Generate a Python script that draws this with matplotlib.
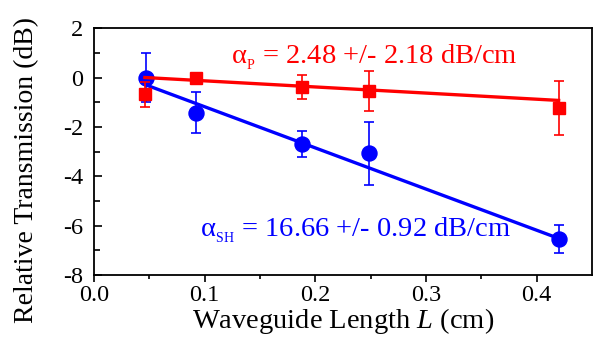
import numpy as np
import matplotlib
matplotlib.use("Agg")
import matplotlib.pyplot as plt

plt.rcParams["font.family"] = ["Liberation Serif", "DejaVu Serif"]
plt.rcParams["mathtext.fontset"] = "custom"
plt.rcParams["mathtext.rm"] = "Liberation Serif"
plt.rcParams["mathtext.it"] = "Liberation Serif:italic"

# SH (blue circles)
sh_x = [0.047, 0.0925, 0.188, 0.249, 0.420]
sh_y = [0.00, -1.42, -2.69, -3.07, -6.55]
sh_err = [1.00, 0.82, 0.52, 1.28, 0.57]
sh_slope = -16.66
sh_y0 = -0.30  # fit value at first length

# P (red squares)
p_x = [0.046, 0.0925, 0.188, 0.249, 0.420]
p_y = [-0.68, -0.02, -0.38, -0.55, -1.23]
p_err = [0.50, 0.10, 0.50, 0.80, 1.10]
p_slope = -2.48
p_y0 = 0.00

blue = "#0000ff"
red = "#ff0000"

fig = plt.figure(figsize=(5.93, 3.43), dpi=100)
ax = fig.add_axes([0.1585, 0.198, 0.8395, 0.72])

# fit lines
xs = np.array([sh_x[0], sh_x[-1]])
ax.plot(xs, sh_y0 + sh_slope * (xs - sh_x[0]), color=blue, lw=2.4, zorder=2)
ax.errorbar(sh_x, sh_y, yerr=sh_err, fmt="o", color=blue, ms=10.8,
            elinewidth=1.2, capsize=3.3, capthick=1.2, zorder=3)

xp = np.array([p_x[0], p_x[-1]])
ax.errorbar(p_x, p_y, yerr=p_err, fmt="s", color=red, ms=9.3,
            elinewidth=1.2, capsize=3.3, capthick=1.2, zorder=4)
ax.plot(xp, p_y0 + p_slope * (xp - p_x[0]), color=red, lw=2.4, zorder=5)

ax.text(0.253, 0.82,
        r"$\mathrm{\alpha}_{{}_{\mathrm{P}}}$ = 2.48 +/- 2.18 dB/cm",
        color=red, fontsize=20.5, ha="center", va="center")
ax.text(0.2365, -6.2,
        r"$\mathrm{\alpha}_{{}_{\mathrm{SH}}}$ = 16.66 +/- 0.92 dB/cm",
        color=blue, fontsize=20.5, ha="center", va="center")

ax.set_xlim(0.0, 0.45)
ax.set_ylim(-8, 2)
ax.set_xticks([0.0, 0.1, 0.2, 0.3, 0.4])
ax.set_xticks(np.arange(0.05, 0.45, 0.1), minor=True)
ax.set_yticks([-8, -6, -4, -2, 0, 2])
ax.set_yticks([-7, -5, -3, -1, 1], minor=True)
ax.set_xticklabels(["0.0", "0.1", "0.2", "0.3", "0.4"])
ax.set_yticklabels(["-8", "-6", "-4", "-2", "0", "2"])

ax.tick_params(axis="x", which="major", direction="out", length=5, width=1.2,
               labelsize=17.5, pad=2)
ax.tick_params(axis="x", which="minor", direction="out", length=3, width=1.2)
ax.tick_params(axis="y", which="major", direction="in", length=6, width=1.2,
               labelsize=17.5, pad=8)
ax.tick_params(axis="y", which="minor", direction="in", length=4, width=1.2)
for s in ax.spines.values():
    s.set_linewidth(1.3)

ax.set_xlabel("Waveguide Length $\\mathit{L}$ (cm)", fontsize=20.5, labelpad=0)
fig.text(27 / 593, 1 - 170 / 343, "Relative Transmission (dB)", fontsize=20,
         rotation=90, ha="center", va="center")

fig.savefig("out.png", dpi=100)
